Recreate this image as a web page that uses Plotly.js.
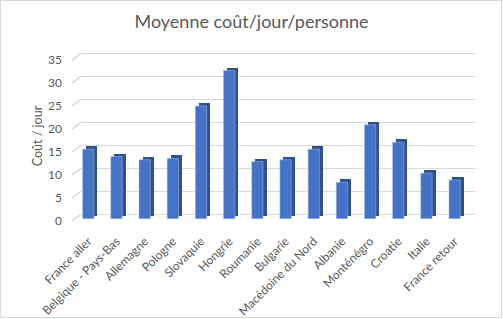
<!DOCTYPE html>
<html>
<head>
<meta charset="utf-8">
<script src="https://cdn.plot.ly/plotly-3.0.1.min.js"></script>
<style>
  html, body { margin: 0; padding: 0; background: #ffffff; }
  #frame { position: absolute; left: 0; top: 0; width: 500px; height: 316px; border: 1px solid #d9d9d9; background: #fff; }
  #chart { width: 500px; height: 316px; }
</style>
</head>
<body>
<div id="frame"><div id="chart"></div></div>
<script>
// ---- data ----
const categories = ["France aller", "Belgique - Pays-Bas", "Allemagne", "Pologne", "Slovaquie", "Hongrie",
  "Roumanie", "Bulgarie", "Macédoine du Nord", "Albanie", "Monténégro", "Croatie", "Italie", "France retour"];
const costPerDay = [15.1, 13.5, 12.8, 13.1, 24.5, 32.2, 12.4, 12.8, 15.1, 7.9, 20.4, 16.6, 9.9, 8.4];
const tickValues = [0, 5, 10, 15, 20, 25, 30, 35];
const tickLabels = ["0", "5", "10", "15", "20", "25", "30", "35"];
const chartTitle = "Moyenne coût/jour/personne";
const yTitle = "Coût / jour";

// ---- styles ----
const FONT = "Lato, 'Open Sans', sans-serif";
const TXT = "#595959";
const GRID = "#d9d9d9";
const pxPerUnitY = 4.6;      // vertical scale in px per unit
const pxPerCat = 28.18;      // horizontal px per category
const plotW = 395;
const depthX = 3.5, depthY = 3.0; // 3D side depth (px)

const barW = 11.3 / pxPerCat;
const sideShift = depthX / pxPerCat;
const sideBase = depthY / pxPerUnitY;

const sideTrace = {
  type: "bar", x: categories, y: costPerDay, base: sideBase,
  width: barW, offset: -barW / 2 + sideShift,
  marker: { color: "#2f528f", line: { width: 0 } },
  yaxis: "y2", hoverinfo: "skip", showlegend: false
};
const frontTrace = {
  type: "bar", x: categories, y: costPerDay, base: 0,
  width: barW, offset: -barW / 2,
  marker: { color: "#4472c4", line: { width: 0.6, color: "rgba(160,185,230,0.9)" } },
  yaxis: "y2", hoverinfo: "skip", showlegend: false
};

// diagonal floor ticks of the back-wall gridlines
const diagShapes = tickValues.map(v => ({
  type: "line", xref: "paper", yref: "y",
  x0: 0, y0: v, x1: -9 / plotW, y1: v - 6.7 / pxPerUnitY,
  line: { color: GRID, width: 1.5 }, layer: "below"
}));

const layout = {
  width: 500, height: 316,
  margin: { l: 80, r: 25, t: 49, b: 95, pad: 0 },
  paper_bgcolor: "#ffffff", plot_bgcolor: "rgba(0,0,0,0)",
  font: { family: FONT, color: TXT, size: 12 },
  title: { text: chartTitle, font: { family: FONT, size: 18, color: TXT },
           xref: "container", yref: "container", x: 0.501, y: 1 - 21 / 316,
           xanchor: "center", yanchor: "middle" },
  barmode: "overlay",
  bargap: 0,
  xaxis: {
    type: "category", range: [-0.259, 13.758],
    showgrid: false, zeroline: false, showline: false, ticks: "",
    tickangle: -45, ticklabelstandoff: 9,
    tickfont: { family: FONT, size: 12, color: TXT },
    fixedrange: true
  },
  yaxis: {
    range: [-1.674, 35.72], tickvals: tickValues, showticklabels: false,
    showgrid: true, gridcolor: GRID, gridwidth: 1.5, zeroline: false,
    showline: false, ticks: "", fixedrange: true
  },
  yaxis2: {
    overlaying: "y", side: "left",
    range: [-0.717, 36.67], tickvals: tickValues, ticktext: tickLabels,
    showgrid: false, zeroline: false, showline: false, ticks: "",
    ticklabelstandoff: 18, ticklabelshift: 2,
    tickfont: { family: FONT, size: 12, color: TXT },
    title: { text: yTitle, font: { family: FONT, size: 12.5, color: TXT }, standoff: 2 },
    fixedrange: true
  },
  shapes: diagShapes,
  showlegend: false
};

Plotly.newPlot("chart", [sideTrace, frontTrace], layout, { staticPlot: true, displayModeBar: false });
</script>
</body>
</html>
